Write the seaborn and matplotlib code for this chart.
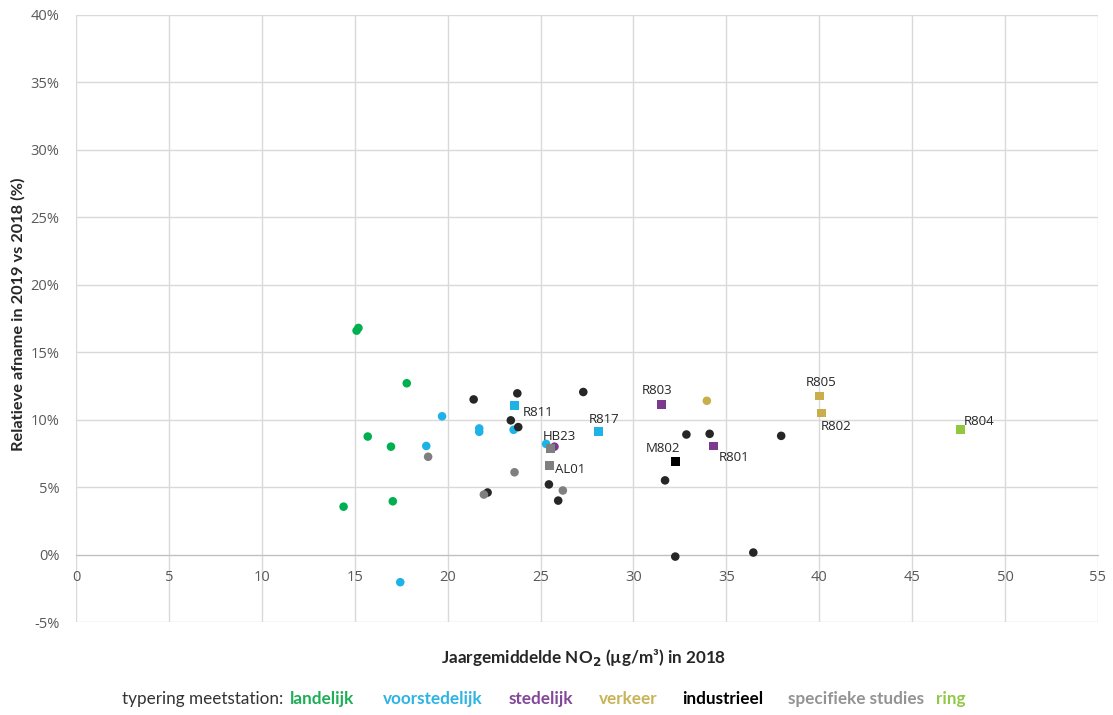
import matplotlib
matplotlib.use("Agg")
import matplotlib.pyplot as plt
from matplotlib.ticker import FuncFormatter, MultipleLocator
import seaborn as sns
import pandas as pd

# Annual mean NO2 in 2018 (µg/m³) and relative decrease 2019 vs 2018 (%)
landelijk_x = [15.1, 15.2, 17.8, 15.7, 16.95, 17.05, 14.4]
landelijk_y = [16.6, 16.8, 12.7, 8.75, 8.0, 3.95, 3.55]

voorstedelijk_x = [19.7, 18.85, 21.7, 21.7, 23.55, 25.3, 17.45]
voorstedelijk_y = [10.25, 8.05, 9.35, 9.1, 9.25, 8.2, -2.05]

industrieel_x = [21.4, 23.75, 27.3, 23.4, 23.8, 25.45, 25.95, 22.15,
                 32.85, 34.1, 37.95, 31.7, 32.25, 36.45]
industrieel_y = [11.5, 11.95, 12.05, 9.95, 9.45, 5.2, 4.0, 4.6,
                 8.9, 8.95, 8.8, 5.5, -0.15, 0.15]

studies_x = [18.95, 23.6, 21.95, 26.2]
studies_y = [7.25, 6.1, 4.45, 4.75]

stedelijk_x = [25.75]
stedelijk_y = [8.0]

verkeer_x = [33.95]
verkeer_y = [11.4]

# Named stations (square markers)
station_names = ["R811", "R817", "HB23", "AL01", "R803", "R801", "M802", "R805", "R802", "R804"]
station_type = ["voorstedelijk", "voorstedelijk", "specifieke studies", "specifieke studies",
                "stedelijk", "stedelijk", "industrieel", "verkeer", "verkeer", "ring"]
station_x = [23.6, 28.1, 25.55, 25.5, 31.5, 34.3, 32.25, 40.0, 40.1, 47.6]
station_y = [11.05, 9.1, 7.85, 6.6, 11.15, 8.05, 6.9, 11.75, 10.5, 9.25]

categories = ["landelijk", "voorstedelijk", "stedelijk", "verkeer",
              "industrieel", "specifieke studies", "ring"]
dot_colors = {"landelijk": "#00B050", "voorstedelijk": "#1DB3E6", "stedelijk": "#7B3A8E",
              "verkeer": "#C9AE4E", "industrieel": "#262626", "specifieke studies": "#7F7F7F",
              "ring": "#92C83E"}
square_colors = dict(dot_colors, industrieel="#000000")
label_colors = {"landelijk": "#1FAE58", "voorstedelijk": "#2DB4E4", "stedelijk": "#83479A",
                "verkeer": "#C8B358", "industrieel": "#000000", "specifieke studies": "#939393",
                "ring": "#92C84A"}

rows = []
for cat, xs, ys in [("landelijk", landelijk_x, landelijk_y),
                    ("voorstedelijk", voorstedelijk_x, voorstedelijk_y),
                    ("industrieel", industrieel_x, industrieel_y),
                    ("specifieke studies", studies_x, studies_y),
                    ("stedelijk", stedelijk_x, stedelijk_y),
                    ("verkeer", verkeer_x, verkeer_y)]:
    rows += [{"no2": x, "afname": y, "typering": cat} for x, y in zip(xs, ys)]
dots = pd.DataFrame(rows)
squares = pd.DataFrame({"no2": station_x, "afname": station_y,
                        "typering": station_type, "naam": station_names})

sns.set_style("white")
plt.rcParams["font.family"] = ["Open Sans", "DejaVu Sans"]

fig = plt.figure(figsize=(11.13, 7.15), dpi=100)
ax = fig.add_axes([76 / 1113, 1 - 622 / 715, (1098 - 76) / 1113, (622 - 15) / 715])

sns.scatterplot(data=dots, x="no2", y="afname", hue="typering", palette=dot_colors,
                marker="o", s=38, linewidth=0, legend=False, ax=ax, zorder=3)
sns.scatterplot(data=squares, x="no2", y="afname", hue="typering", palette=square_colors,
                marker="s", s=40, linewidth=0, legend=False, ax=ax, zorder=4)

ax.set_xlim(0, 55)
ax.set_ylim(-5, 40)
ax.xaxis.set_major_locator(MultipleLocator(5))
ax.yaxis.set_major_locator(MultipleLocator(5))
ax.yaxis.set_major_formatter(FuncFormatter(lambda v, _: f"{v:.0f}%"))
ax.grid(True, color="#D9D9D9", linewidth=1.0, zorder=0)
ax.set_axisbelow(True)
for side in ["top", "right", "left"]:
    ax.spines[side].set_visible(False)
ax.spines["bottom"].set_position(("data", 0))
ax.spines["bottom"].set_color("#BFBFBF")
ax.tick_params(axis="both", length=0, labelsize=10.5, labelcolor="#595959")
ax.tick_params(axis="x", pad=11)
ax.tick_params(axis="y", pad=12)
ax.set_xlabel("")
ax.set_ylabel("")

# Station labels
offsets = {"R811": (6, -5, "left"), "R817": (-7, 9, "left"), "HB23": (-6, 9, "left"),
           "AL01": (4, -3, "left"), "R803": (-14, 10, "left"), "R801": (4, -8, "left"),
           "M802": (-21, 9, "left"), "R805": (-10, 10, "left"), "R802": (0, -10, "left"),
           "R804": (2, 6, "left")}
for name, x, y in zip(station_names, station_x, station_y):
    dx, dy, ha = offsets[name]
    ax.annotate(name, (x, y), xytext=(dx, dy), textcoords="offset points",
                fontsize=9.5, color="#262626", ha=ha, va="center", zorder=5)

bold = dict(fontweight="bold", family=["Lato", "DejaVu Sans"])
fig.text(18 / 1113, 1 - 314 / 715, "Relatieve afname in 2019 vs 2018 (%)", rotation=90,
         ha="center", va="center", fontsize=11.8, color="#262626", **bold)
fig.text(584 / 1113, 1 - 658 / 715, "Jaargemiddelde NO$_\\mathbf{2}$ (µg/m³) in 2018",
         ha="center", va="center", fontsize=12.3, color="#262626", **bold)

# Category legend along the bottom
fig.text(203 / 1113, 1 - 699 / 715, "typering meetstation:", ha="center", va="center",
         fontsize=12.3, color="#333333", family=["Lato", "DejaVu Sans"])
legend_x = [322, 433, 541, 628, 723, 856, 951]
for cat, lx in zip(categories, legend_x):
    fig.text(lx / 1113, 1 - 699 / 715, cat, ha="center", va="center", fontsize=12.3,
             color=label_colors[cat], **bold)

fig.savefig("out.png", dpi=100)
